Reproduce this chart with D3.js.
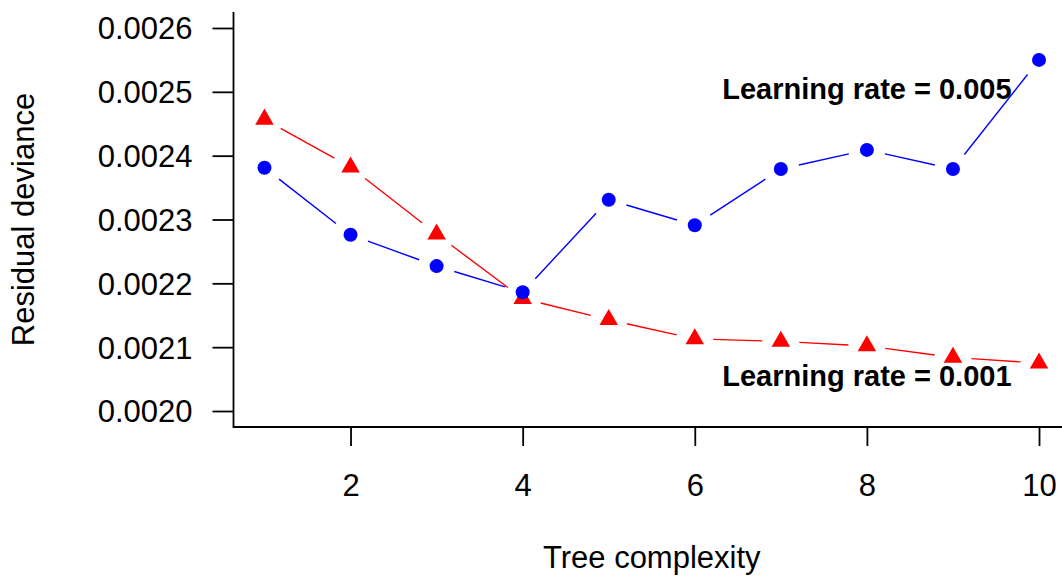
<!DOCTYPE html>
<html>
<head>
<meta charset="utf-8">
<script src="https://cdn.jsdelivr.net/npm/d3@7"></script>
<style>
  html, body { margin: 0; padding: 0; background: #fff; }
  svg { display: block; font-family: "Liberation Sans", Arial, sans-serif; }
</style>
</head>
<body>
<svg id="chart" width="1062" height="578"></svg>
<script>
// Tree complexity values on the x axis
const treeComplexity = [1, 2, 3, 4, 5, 6, 7, 8, 9, 10];
// Residual deviance, learning rate 0.005 (blue circles)
const devianceLr005 = [0.002381, 0.002276, 0.002227, 0.002186, 0.002331,
                       0.002291, 0.002379, 0.002409, 0.002379, 0.002550];
// Residual deviance, learning rate 0.001 (red triangles)
const devianceLr001 = [0.002457, 0.002382, 0.002277, 0.002176, 0.002143,
                       0.002113, 0.002109, 0.002102, 0.002084, 0.002075];
// Axis ticks
const xTicks = [2, 4, 6, 8, 10];
const yTicks = [0.0020, 0.0021, 0.0022, 0.0023, 0.0024, 0.0025, 0.0026];
// Text annotations: [x, y, label]
const annotations = [
  [8, 0.00250, "Learning rate = 0.005"],
  [8, 0.00205, "Learning rate = 0.001"]
];

const svg = d3.select("#chart");

// plot region (R-style, 4% padding on the x range)
const plotLeft = 233.5, plotRight = 1070, plotTop = 12, plotBottom = 427;

const x = d3.scaleLinear().domain([0.64, 10.36]).range([plotLeft, plotRight]);
const y = d3.scaleLinear().domain([0.0020, 0.0026]).range([411, 28]);

// L-shaped frame
svg.append("path")
  .attr("d", `M${plotLeft},${plotTop}V${plotBottom}H${plotRight}`)
  .attr("fill", "none").attr("stroke", "#000").attr("stroke-width", 1.8);

// y axis
const yAxis = d3.axisLeft(y).tickValues(yTicks)
  .tickFormat(d3.format(".4f")).tickSize(21).tickPadding(20);
const gy = svg.append("g").attr("transform", `translate(${plotLeft},0)`).call(yAxis);
gy.select(".domain").remove();
gy.selectAll(".tick line").attr("stroke-width", 1.8);
gy.selectAll(".tick text").attr("font-size", 31).attr("fill", "#000")
  .attr("dy", "0.35em")
  .attr("font-family", "Liberation Sans, Arial, sans-serif");

// x axis
const xAxis = d3.axisBottom(x).tickValues(xTicks).tickSize(19).tickPadding(28);
const gx = svg.append("g").attr("transform", `translate(0,${plotBottom})`).call(xAxis);
gx.select(".domain").remove();
gx.selectAll(".tick line").attr("stroke-width", 1.8);
gx.selectAll(".tick text").attr("font-size", 31).attr("fill", "#000")
  .attr("font-family", "Liberation Sans, Arial, sans-serif");

// axis titles
svg.append("text")
  .attr("x", (plotLeft + plotRight) / 2).attr("y", 568)
  .attr("text-anchor", "middle").attr("font-size", 31)
  .text("Tree complexity");
svg.append("text")
  .attr("transform", `translate(34,${(plotTop + plotBottom) / 2}) rotate(-90)`)
  .attr("text-anchor", "middle").attr("font-size", 31)
  .text("Residual deviance");

// lines between points, leaving a gap around each marker
const gap = 18.5;
function gappedSegments(values, color) {
  const pts = treeComplexity.map((t, i) => [x(t), y(values[i])]);
  const segs = [];
  for (let i = 0; i < pts.length - 1; i++) {
    const [x0, y0] = pts[i], [x1, y1] = pts[i + 1];
    const len = Math.hypot(x1 - x0, y1 - y0);
    if (len <= 2 * gap) continue;
    const ux = (x1 - x0) / len, uy = (y1 - y0) / len;
    segs.push([x0 + ux * gap, y0 + uy * gap, x1 - ux * gap, y1 - uy * gap]);
  }
  svg.append("g").selectAll("line").data(segs).join("line")
    .attr("x1", d => d[0]).attr("y1", d => d[1])
    .attr("x2", d => d[2]).attr("y2", d => d[3])
    .attr("stroke", color).attr("stroke-width", 1.4);
}
gappedSegments(devianceLr001, "#ff0000");
gappedSegments(devianceLr005, "#0000ff");

// red filled triangles
const tr = 10.7;
svg.append("g").selectAll("path").data(devianceLr001).join("path")
  .attr("d", (d, i) => {
    const cx = x(treeComplexity[i]), cy = y(d);
    const hw = tr * Math.sqrt(3) / 2;
    return `M${cx},${cy - tr}L${cx + hw},${cy + tr / 2}L${cx - hw},${cy + tr / 2}Z`;
  })
  .attr("fill", "#ff0000");

// blue filled circles
svg.append("g").selectAll("circle").data(devianceLr005).join("circle")
  .attr("cx", (d, i) => x(treeComplexity[i])).attr("cy", d => y(d))
  .attr("r", 7).attr("fill", "#0000ff");

// annotations
svg.append("g").selectAll("text").data(annotations).join("text")
  .attr("x", d => x(d[0])).attr("y", d => y(d[1]))
  .attr("dy", "0.25em").attr("text-anchor", "middle")
  .attr("font-size", 29).attr("font-weight", "bold")
  .text(d => d[2]);
</script>
</body>
</html>
